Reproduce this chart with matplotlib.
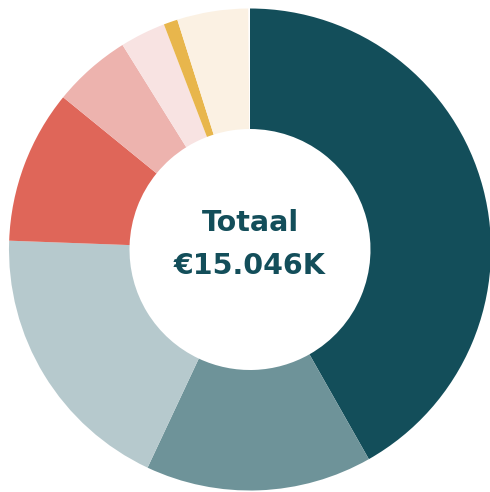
import matplotlib.pyplot as plt

# values in K euro, clockwise from 12 o'clock
values = [6290, 2287, 2799, 1550, 790, 460, 141, 719, 15]
colors = ['#134E5A', '#6E9399', '#B6C9CD', '#DF6659', '#EDB3AE',
          '#F8E3E2', '#E8B64C', '#FBF1E3', '#FFFFFF']
title_line = 'Totaal'
total_line = '€15.046K'

fig = plt.figure(figsize=(4.9, 4.92), dpi=100)
ax = fig.add_axes([0, 0, 1, 1])

ax.pie(values, colors=colors, startangle=90, counterclock=False,
       radius=1.0, wedgeprops=dict(width=0.5, linewidth=0),
       center=(0, 0))
ax.set_xlim(-250 / 241, 240 / 241)
ax.set_ylim(-242.5 / 241, 249.5 / 241)
ax.set_aspect('equal')
ax.axis('off')

font = dict(ha='center', va='center', fontsize=20.5, fontweight='heavy',
            family=['DejaVu Sans'], color='#134E5A')
ax.text(0, 0.11, title_line, **font)
ax.text(0, -0.067, total_line, **font)

fig.savefig('out.png', dpi=100)
